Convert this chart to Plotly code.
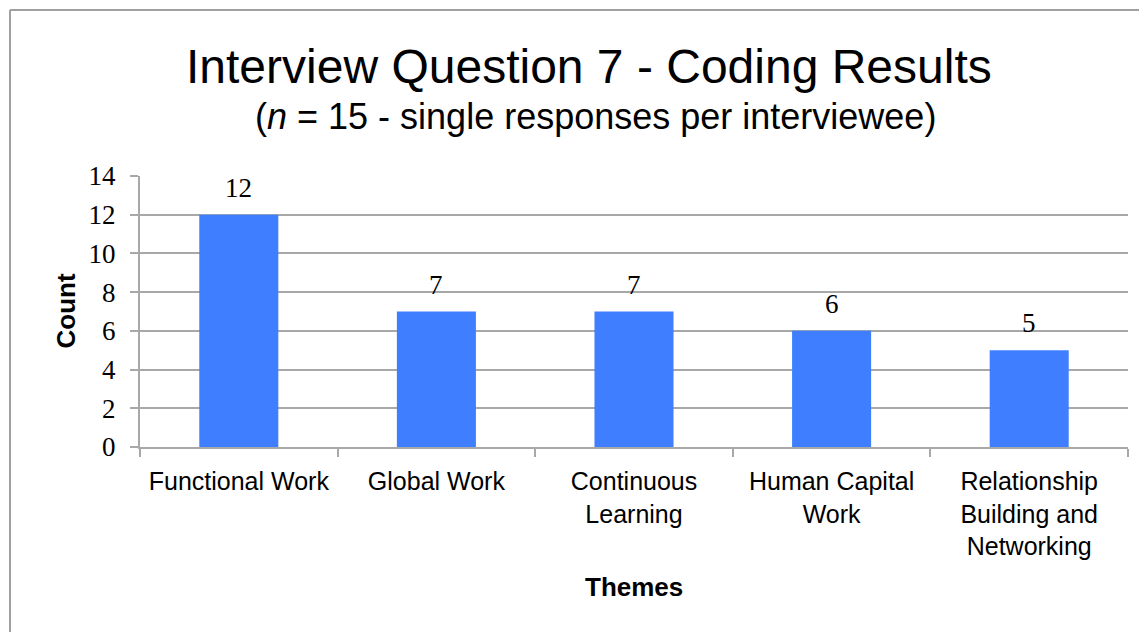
import plotly.graph_objects as go

# Daten
themes = ["Functional Work", "Global Work", "Continuous<br>Learning",
          "Human Capital<br>Work", "Relationship<br>Building and<br>Networking"]
counts = [12, 7, 7, 6, 5]
y_ticks = [0, 2, 4, 6, 8, 10, 12, 14]

bar_color = "#3F7FFF"
grid_color = "#A8A8A8"

fig = go.Figure()

fig.add_trace(
    go.Bar(
        x=themes,
        y=counts,
        marker=dict(color=bar_color, line=dict(width=0)),
        width=0.4,
        hoverinfo="x+y",
    )
)

# Werte ueber den Balken
for t, c in zip(themes, counts):
    fig.add_annotation(
        x=t, y=c, text=str(c), showarrow=False,
        yanchor="middle", yshift=27,
        font=dict(family="Liberation Serif", size=27, color="black"),
    )

# Titel
fig.add_annotation(
    xref="paper", yref="paper", x=0.4545, y=1.0, yshift=110,
    text="Interview Question 7 - Coding Results", showarrow=False,
    xanchor="center", yanchor="middle",
    font=dict(family="Liberation Sans", size=48, color="black"),
)
fig.add_annotation(
    xref="paper", yref="paper", x=0.461, y=1.0, yshift=60,
    text="(<i>n</i> = 15 - single responses per interviewee)", showarrow=False,
    xanchor="center", yanchor="middle",
    font=dict(family="Liberation Sans", size=36, color="black"),
)

# Achsentitel
fig.add_annotation(
    xref="paper", yref="paper", x=0.0, y=0.5, xshift=-75,
    text="<b>Count</b>", showarrow=False, textangle=-90,
    xanchor="center", yanchor="middle",
    font=dict(family="Liberation Sans", size=26, color="black"),
)
fig.add_annotation(
    xref="paper", yref="paper", x=0.5, y=0.0, yshift=-140,
    text="<b>Themes</b>", showarrow=False,
    xanchor="center", yanchor="middle",
    font=dict(family="Liberation Sans", size=26, color="black"),
)

# Rahmen oben und links
fig.add_shape(type="line", xref="paper", yref="paper",
              x0=(10 - 140) / 988, x1=(1160 - 140) / 988,
              y0=(447 - 10) / 271, y1=(447 - 10) / 271,
              line=dict(color="#A0A0A0", width=2))
fig.add_shape(type="line", xref="paper", yref="paper",
              x0=(10 - 140) / 988, x1=(10 - 140) / 988,
              y0=(447 - 10) / 271, y1=(447 - 650) / 271,
              line=dict(color="#A0A0A0", width=2))

fig.update_layout(
    width=1147,
    height=632,
    margin=dict(l=132, r=27, t=168, b=193),
    paper_bgcolor="white",
    plot_bgcolor="white",
    showlegend=False,
    bargap=0.6,
)

fig.update_xaxes(
    type="category",
    showline=True, linecolor=grid_color, linewidth=2,
    ticks="outside", tickson="boundaries", ticklen=8, tickcolor=grid_color, tickwidth=2,
    showgrid=False,
    tickangle=0,
    ticklabelstandoff=11,
    tickfont=dict(family="Liberation Sans", size=25, color="black"),
)

fig.update_yaxes(
    range=[0, 14],
    tickvals=y_ticks,
    showline=True, linecolor=grid_color, linewidth=2,
    ticks="outside", ticklen=8, tickcolor=grid_color, tickwidth=2,
    showgrid=True, gridcolor=grid_color, gridwidth=2,
    zeroline=False,
    ticklabelstandoff=9,
    tickfont=dict(family="Liberation Serif", size=27, color="black"),
)

fig.write_html("out.html")
